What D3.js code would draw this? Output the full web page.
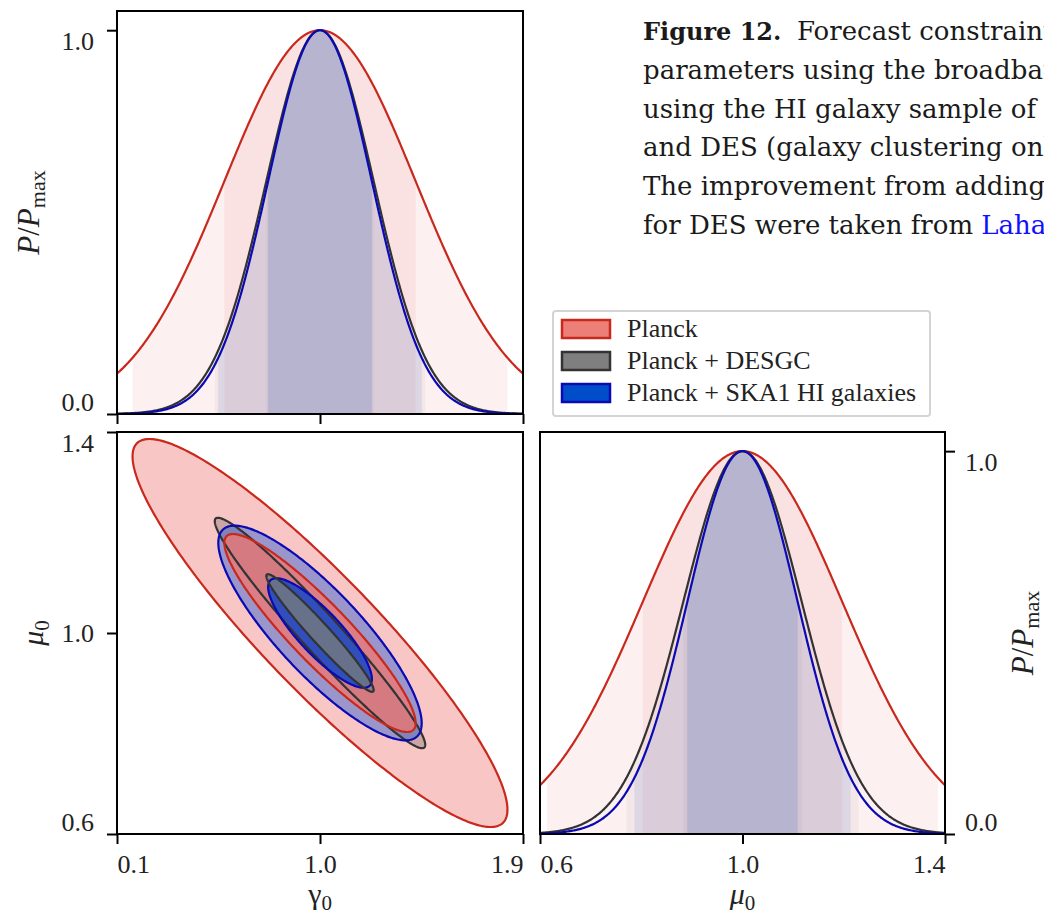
<!DOCTYPE html>
<html>
<head>
<meta charset="utf-8">
<script src="https://cdn.jsdelivr.net/npm/d3@7"></script>
<style>
  body { margin: 0; background: #fff; }
  svg { display: block; }
</style>
</head>
<body>
<svg id="chart" width="1044" height="919"></svg>
<script>
// values
const datasets = ["Planck", "Planck + DESGC", "Planck + SKA1 HI galaxies"];
const fiducialGamma = 1.0;
const fiducialMu = 1.0;
const sigmaGamma = [0.424, 0.238, 0.230];
const sigmaMu = [0.197, 0.117, 0.109];
const rhoGammaMu = [-0.91, -0.97, -0.84];
const levels = [1.96, 1.0];            // 95% and 68% regions
const gammaTicks = [0.1, 1.0, 1.9];
const muTicks = [0.6, 1.0, 1.4];
const probTicks = [0.0, 1.0];
const captionLines = [
  "Forecast constraints on the",
  "parameters using the broadband",
  "using the HI galaxy sample of",
  "and DES (galaxy clustering only)",
  "The improvement from adding",
  "for DES were taken from "
];
const captionLink = "Lahav et al.";

// styles
const SERIF = "'Liberation Serif', serif";
const CAPTION_FONT = "'DejaVu Serif', serif";
const lineColor = ["#c9291c", "#333333", "#0a0ab4"];
const bandColor = ["rgb(230,60,60)", "rgb(80,80,80)", "rgb(30,90,200)"];
const bandAlpha = [[0.075, 0.08], [0.05, 0.05], [0.11, 0.15]];
const outerFill = [["#e8504a", 0.32], ["#444444", 0.25], ["#285ad2", 0.45]];
const innerFill = [["#eb7873", 0.8], ["#7a7d78", 0.75], ["#1446c8", 0.85]];
const legendFill = ["#ec8078", "#7f7f7f", "#004dcc"];

const svg = d3.select("#chart");

const xG = d3.scaleLinear().domain([0.1, 1.9]).range([117, 523]);
const yTop = d3.scaleLinear().domain([0, 1.05]).range([414, 11]);
const yMu = d3.scaleLinear().domain([0.6, 1.4]).range([834, 432]);
const xMu = d3.scaleLinear().domain([0.6, 1.4]).range([540, 945]);
const yRight = d3.scaleLinear().domain([0, 1.05]).range([834, 432]);

const gauss = (x, c, s) => Math.exp(-0.5 * ((x - c) / s) ** 2);

function clipFor(id, xs, ys) {
  svg.append("clipPath").attr("id", id)
    .append("rect")
    .attr("x", xs.range()[0]).attr("y", ys.range()[1])
    .attr("width", xs.range()[1] - xs.range()[0])
    .attr("height", ys.range()[0] - ys.range()[1]);
}
clipFor("c1", xG, yTop);
clipFor("c2", xG, yMu);
clipFor("c3", xMu, yRight);

// 1D marginal panel
function draw1D(id, xs, ys, center, sigmas) {
  const g = svg.append("g").attr("clip-path", `url(#${id})`);
  const dom = xs.domain();
  const area = d3.area().x(d => xs(d[0])).y0(ys(0)).y1(d => ys(d[1]));
  const line = d3.line().x(d => xs(d[0])).y(d => ys(d[1]));
  sigmas.forEach((s, i) => {
    levels.forEach((lv, j) => {
      const lo = Math.max(dom[0], center - lv * s);
      const hi = Math.min(dom[1], center + lv * s);
      const pts = d3.range(201).map(k => {
        const x = lo + (hi - lo) * k / 200;
        return [x, gauss(x, center, s)];
      });
      g.append("path").attr("d", area(pts))
        .attr("fill", bandColor[i]).attr("fill-opacity", bandAlpha[i][j]);
    });
  });
  sigmas.forEach((s, i) => {
    const pts = d3.range(401).map(k => {
      const x = dom[0] + (dom[1] - dom[0]) * k / 400;
      return [x, gauss(x, center, s)];
    });
    g.append("path").attr("d", line(pts))
      .attr("fill", "none").attr("stroke", lineColor[i]).attr("stroke-width", 2.2);
  });
}

draw1D("c1", xG, yTop, fiducialGamma, sigmaGamma);
draw1D("c3", xMu, yRight, fiducialMu, sigmaMu);

// 2D contours
function ellipsePts(i, k) {
  const sx = sigmaGamma[i], sy = sigmaMu[i], r = rhoGammaMu[i];
  return d3.range(0, 360, 1).map(deg => {
    const t = deg * Math.PI / 180;
    const dx = k * sx * Math.cos(t);
    const dy = k * sy * (r * Math.cos(t) + Math.sqrt(1 - r * r) * Math.sin(t));
    return [xG(fiducialGamma + dx), yMu(fiducialMu + dy)];
  });
}
const closed = d3.line().curve(d3.curveLinearClosed);
const g2 = svg.append("g").attr("clip-path", "url(#c2)");
const order = [
  [0, 1.96, outerFill[0]], [1, 1.96, outerFill[1]], [2, 1.96, outerFill[2]],
  [0, 1.0, innerFill[0]], [2, 1.0, innerFill[2]], [1, 1.0, innerFill[1]]
];
order.forEach(([i, k, f]) => {
  g2.append("path").attr("d", closed(ellipsePts(i, k)))
    .attr("fill", f[0]).attr("fill-opacity", f[1]);
});
order.forEach(([i, k]) => {
  g2.append("path").attr("d", closed(ellipsePts(i, k)))
    .attr("fill", "none").attr("stroke", lineColor[i]).attr("stroke-width", 2.2);
});

// spines
[[xG, yTop], [xG, yMu], [xMu, yRight]].forEach(([xs, ys]) => {
  svg.append("rect")
    .attr("x", xs.range()[0]).attr("y", ys.range()[1])
    .attr("width", xs.range()[1] - xs.range()[0])
    .attr("height", ys.range()[0] - ys.range()[1])
    .attr("fill", "none").attr("stroke", "#000").attr("stroke-width", 2);
});

// axes
function styleAxis(sel) {
  sel.select(".domain").remove();
  sel.selectAll(".tick line").attr("stroke", "#000").attr("stroke-width", 2);
  sel.selectAll(".tick text")
    .style("font-family", SERIF).style("font-size", "26px").attr("fill", "#222");
}
function edgeX(sel) {
  const n = sel.selectAll(".tick text").size();
  sel.selectAll(".tick text")
    .attr("text-anchor", (d, i) => i === 0 ? "start" : (i === n - 1 ? "end" : "middle"));
}
function edgeY(sel) {
  const n = sel.selectAll(".tick text").size();
  sel.selectAll(".tick text")
    .attr("dy", (d, i) => i === 0 ? "-0.15em" : (i === n - 1 ? "0.74em" : "0.32em"));
}

svg.append("g").attr("transform", `translate(0,${yTop(0)})`)
  .call(d3.axisBottom(xG).tickValues(gammaTicks).tickSize(10).tickFormat(""))
  .call(styleAxis);
svg.append("g").attr("transform", `translate(${xG.range()[0]},0)`)
  .call(d3.axisLeft(yTop).tickValues(probTicks).tickSize(10).tickPadding(13).tickFormat(d3.format(".1f")))
  .call(styleAxis).call(edgeY);

svg.append("g").attr("transform", `translate(0,${yMu(0.6)})`)
  .call(d3.axisBottom(xG).tickValues(gammaTicks).tickSize(10).tickPadding(11).tickFormat(d3.format(".1f")))
  .call(styleAxis).call(edgeX);
svg.append("g").attr("transform", `translate(${xG.range()[0]},0)`)
  .call(d3.axisLeft(yMu).tickValues(muTicks).tickSize(10).tickPadding(13).tickFormat(d3.format(".1f")))
  .call(styleAxis).call(edgeY);

svg.append("g").attr("transform", `translate(0,${yRight(0)})`)
  .call(d3.axisBottom(xMu).tickValues(muTicks).tickSize(10).tickPadding(11).tickFormat(d3.format(".1f")))
  .call(styleAxis).call(edgeX);
svg.append("g").attr("transform", `translate(${xMu.range()[1]},0)`)
  .call(d3.axisRight(yRight).tickValues(probTicks).tickSize(10).tickPadding(10).tickFormat(d3.format(".1f")))
  .call(styleAxis).call(edgeY);

// axis labels
function pLabel(x, y) {
  const t = svg.append("text")
    .attr("transform", `translate(${x},${y}) rotate(-90)`)
    .attr("text-anchor", "middle").attr("dy", "0.3em").attr("fill", "#222")
    .style("font-family", SERIF).style("font-size", "31px");
  t.append("tspan").attr("font-style", "italic").text("P");
  t.append("tspan").text("/");
  t.append("tspan").attr("font-style", "italic").text("P");
  t.append("tspan").style("font-size", "22px").attr("dy", 6).text("max");
}
pLabel(30, (yTop.range()[0] + yTop.range()[1]) / 2);
pLabel(1024, (yRight.range()[0] + yRight.range()[1]) / 2);

function subLabel(x, y, sym, italic, rotate) {
  const t = svg.append("text")
    .attr("transform", `translate(${x},${y})` + (rotate ? " rotate(-90)" : ""))
    .attr("text-anchor", "middle").attr("fill", "#222")
    .attr("dy", rotate ? "0.3em" : 0)
    .style("font-family", SERIF).style("font-size", "30px");
  t.append("tspan").attr("font-style", italic ? "italic" : "normal").text(sym);
  t.append("tspan").style("font-size", "21px").attr("dy", 6).text("0");
}
subLabel((xG.range()[0] + xG.range()[1]) / 2, 904, "γ", false, false);
subLabel((xMu.range()[0] + xMu.range()[1]) / 2, 904, "μ", true, false);
subLabel(34, yMu(1.0), "μ", true, true);

// legend
const lg = svg.append("g");
lg.append("rect").attr("x", 553).attr("y", 311).attr("width", 377).attr("height", 105)
  .attr("rx", 3).attr("fill", "#fff").attr("stroke", "#d4d4d4").attr("stroke-width", 2);
datasets.forEach((name, i) => {
  const cy = 329 + i * 32;
  lg.append("rect").attr("x", 562).attr("y", cy - 9).attr("width", 48).attr("height", 18)
    .attr("fill", legendFill[i]).attr("stroke", lineColor[i]).attr("stroke-width", 2.5);
  lg.append("text").attr("x", 627).attr("y", cy + 8).attr("fill", "#222")
    .style("font-family", SERIF).style("font-size", "26px").text(name);
});

// caption (cut at the right edge, as in the page)
captionLines.forEach((line, i) => {
  const t = svg.append("text").attr("x", 643).attr("y", 40 + i * 38.8).attr("fill", "#1a1a1a")
    .style("font-family", CAPTION_FONT).style("font-size", "26px");
  if (i === 0) {
    t.append("tspan").style("font-weight", "bold").style("font-size", "24px").text("Figure 12.");
    t.append("tspan").attr("x", 797).text(line);
  } else {
    t.append("tspan").text(line);
  }
  if (i === captionLines.length - 1) {
    t.append("tspan").attr("fill", "#1010ff").text(captionLink);
  }
});
</script>
</body>
</html>
